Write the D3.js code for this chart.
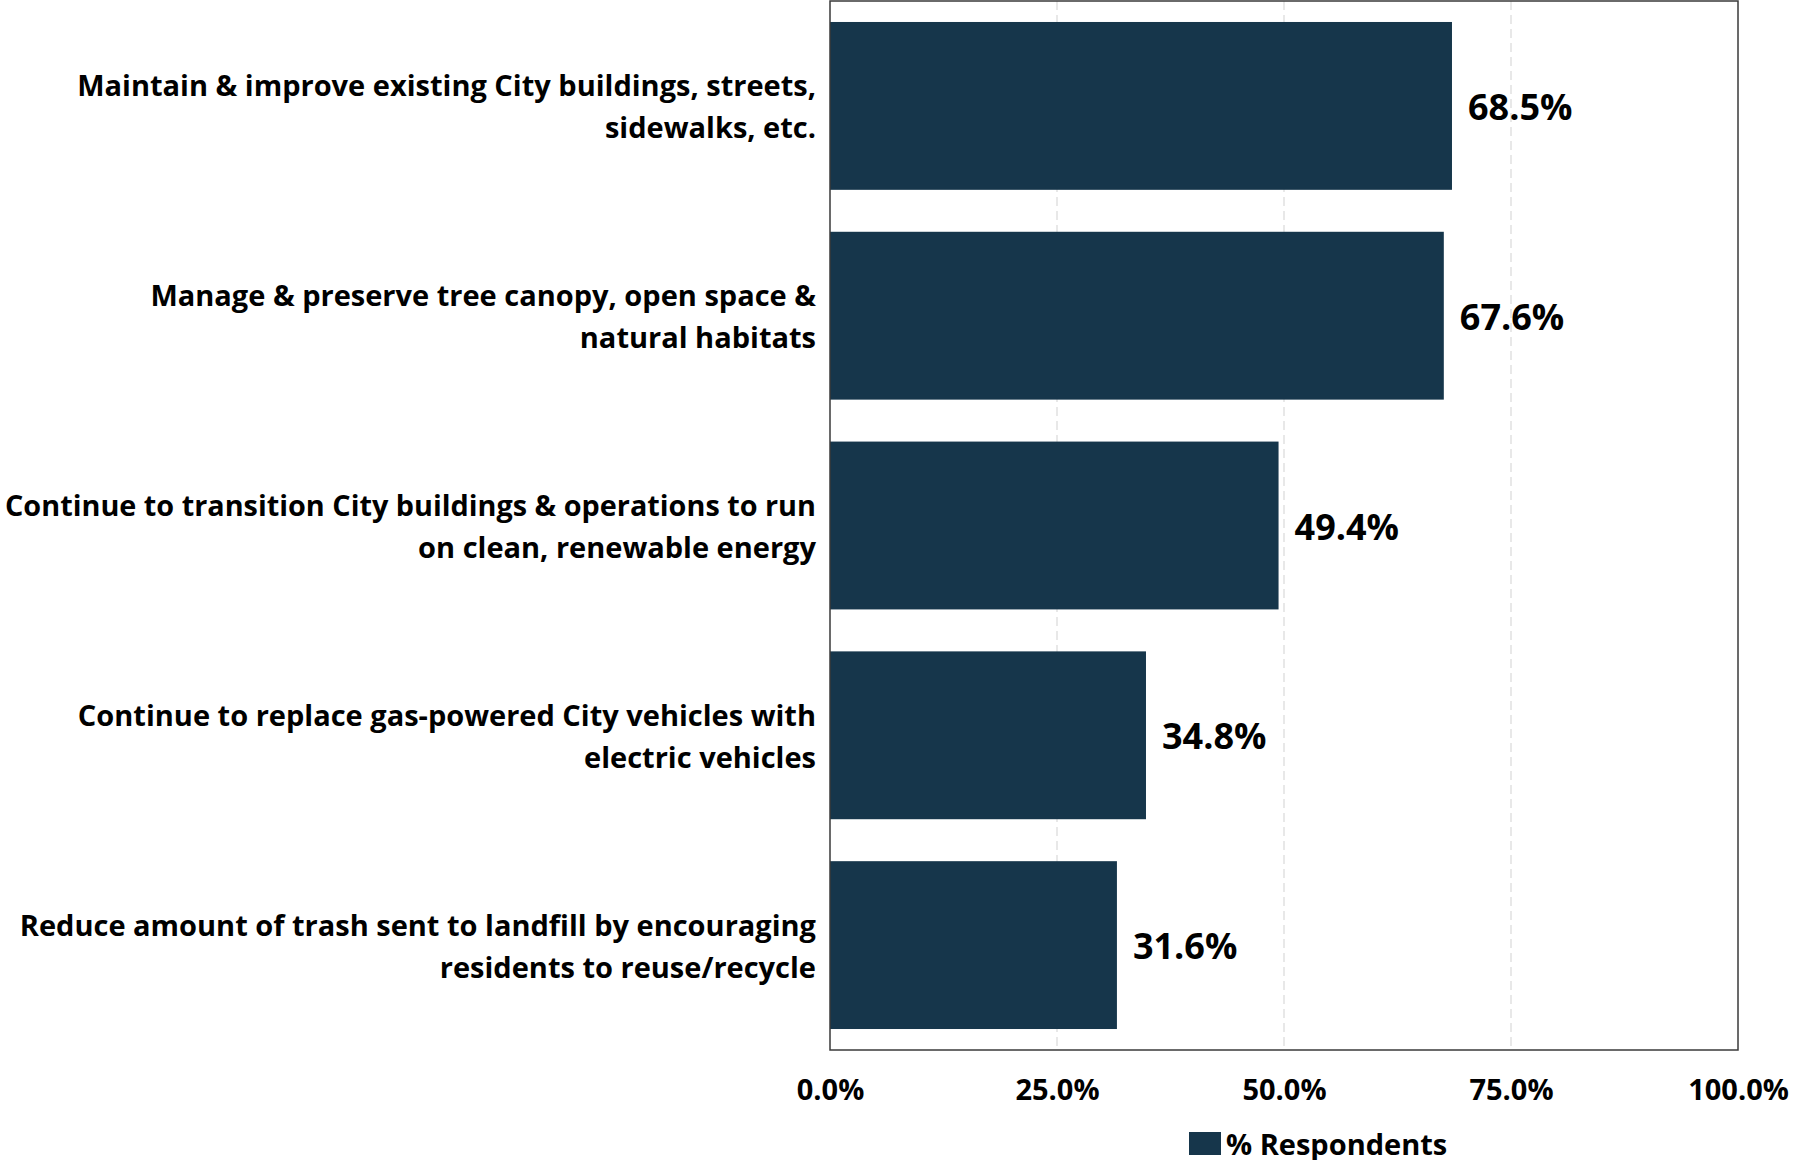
<!DOCTYPE html>
<html>
<head>
<meta charset="utf-8">
<script src="https://cdn.jsdelivr.net/npm/d3@7"></script>
<style>
  html, body { margin: 0; padding: 0; background: #fff; }
  svg { display: block; }
  text { font-family: "Open Sans", Lato, sans-serif; font-weight: 700; fill: #000; }
</style>
</head>
<body>
<svg id="chart" width="1793" height="1160"></svg>
<script>
// Survey priorities, share of respondents
const categories = [
  ["Maintain & improve existing City buildings, streets,", "sidewalks, etc."],
  ["Manage & preserve tree canopy, open space &", "natural habitats"],
  ["Continue to transition City buildings & operations to run", "on clean, renewable energy"],
  ["Continue to replace gas-powered City vehicles with", "electric vehicles"],
  ["Reduce amount of trash sent to landfill by encouraging", "residents to reuse/recycle"]
];
const values = [68.5, 67.6, 49.4, 34.8, 31.6];
const tickValues = [0, 25, 50, 75, 100];
const seriesName = "% Respondents";

const barColor = "#16364b";
const svg = d3.select("#chart");

const plot = { left: 830, right: 1738, top: 1, bottom: 1050 };

const x = d3.scaleLinear().domain([0, 100]).range([plot.left, plot.right]);
const y = d3.scaleBand()
  .domain(d3.range(categories.length))
  .range([plot.top, plot.bottom])
  .paddingInner(0.2)
  .paddingOuter(0.1);

// vertical dashed gridlines
svg.append("g")
  .selectAll("line")
  .data(tickValues.filter(t => t > 0 && t < 100))
  .join("line")
  .attr("x1", d => x(d)).attr("x2", d => x(d))
  .attr("y1", plot.top).attr("y2", plot.bottom)
  .attr("stroke", "#d9d9d9")
  .attr("stroke-width", 1.2)
  .attr("stroke-dasharray", "9,5");

// bars
svg.append("g")
  .selectAll("rect")
  .data(values)
  .join("rect")
  .attr("x", x(0))
  .attr("y", (d, i) => y(i))
  .attr("width", d => x(d) - x(0))
  .attr("height", y.bandwidth())
  .attr("fill", barColor);

// plot frame
svg.append("rect")
  .attr("x", plot.left).attr("y", plot.top)
  .attr("width", plot.right - plot.left)
  .attr("height", plot.bottom - plot.top)
  .attr("fill", "none")
  .attr("stroke", "#3a3a3a")
  .attr("stroke-width", 1.5);

// value labels
svg.append("g")
  .selectAll("text")
  .data(values)
  .join("text")
  .attr("x", d => x(d) + 16)
  .attr("y", (d, i) => y(i) + y.bandwidth() / 2 + 14)
  .attr("font-size", 36)
  .text(d => d.toFixed(1) + "%");

// category labels, two lines each; squeeze any line that would run off the left edge
const labelRight = plot.left - 14;
const maxLineWidth = labelRight - 5;
const catG = svg.append("g");
categories.forEach((lines, i) => {
  const cy = y(i) + y.bandwidth() / 2;
  const t = catG.append("text")
    .attr("text-anchor", "end")
    .attr("font-size", 29)
    .attr("x", labelRight)
    .attr("y", cy - 9.5);
  lines.forEach((ln, k) => {
    const span = t.append("tspan")
      .attr("x", labelRight)
      .attr("dy", k === 0 ? 0 : 42)
      .text(ln);
    const w = span.node().getComputedTextLength();
    if (w > maxLineWidth) {
      span.attr("textLength", maxLineWidth).attr("lengthAdjust", "spacingAndGlyphs");
    }
  });
});

// x axis tick labels
const xAxis = d3.axisBottom(x)
  .tickValues(tickValues)
  .tickSize(0)
  .tickPadding(0)
  .tickFormat(d => d.toFixed(1) + "%");
const axG = svg.append("g")
  .attr("transform", `translate(0,${plot.bottom})`)
  .call(xAxis);
axG.select(".domain").remove();
axG.selectAll("text")
  .attr("y", 50)
  .attr("dy", 0)
  .attr("font-size", 29)
  .style("font-family", "'Open Sans', Lato, sans-serif")
  .style("font-weight", 700)
  .attr("fill", "#000");

// legend
const legend = svg.append("g").attr("transform", "translate(1189,1132)");
legend.append("rect")
  .attr("width", 32).attr("height", 23)
  .attr("fill", barColor);
legend.append("text")
  .attr("x", 37).attr("y", 23)
  .attr("font-size", 29)
  .text(seriesName);
</script>
</body>
</html>
